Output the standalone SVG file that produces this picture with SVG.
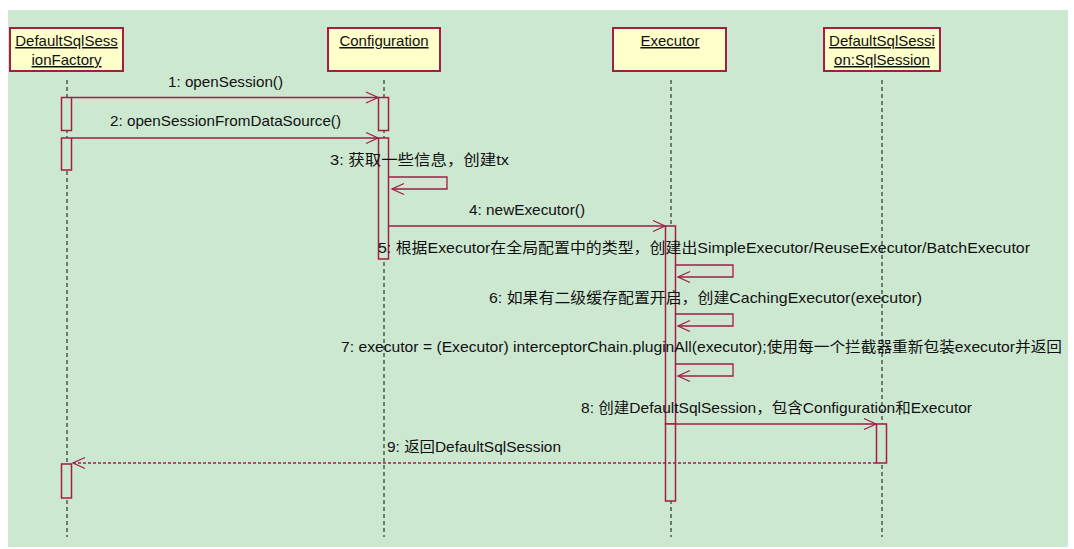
<svg xmlns="http://www.w3.org/2000/svg" width="1074" height="549" viewBox="0 0 1074 549">
<style>
.bg{fill:#cde8d1}
.box{fill:#ffffcc;stroke:#a31d45;stroke-width:2}
.hd{font-family:"Liberation Sans","Noto Sans CJK SC",sans-serif;font-size:15px;fill:#111;text-anchor:middle;text-decoration:underline}
.life{stroke:#111;stroke-width:1;stroke-dasharray:4,3;fill:none}
.act{fill:#cde8d1;stroke:#a31d45;stroke-width:1.5}
.msg{stroke:#a31d45;stroke-width:1.3;fill:none}
.ret{stroke:#a31d45;stroke-width:1.3;fill:none;stroke-dasharray:3,2}
.lbl{font-family:"Liberation Sans","Noto Sans CJK SC",sans-serif;font-size:14.5px;fill:#111}
</style>
<defs>
<marker id="open" markerUnits="userSpaceOnUse" markerWidth="14" markerHeight="14" refX="12" refY="6" orient="auto" overflow="visible">
<path d="M0,0.5 L12,6 L0,11.5" fill="none" stroke="#a31d45" stroke-width="1.3"/>
</marker>
</defs>
<rect class="bg" x="8" y="10" width="1060" height="537"/>

<g id="lifeline-factory">
<line class="life" x1="67" y1="80" x2="67" y2="537"/>
<rect class="box" x="10" y="28" width="113" height="43"/>
<text class="hd" x="66.5" y="46">DefaultSqlSess</text>
<text class="hd" x="66.5" y="65">ionFactory</text>
<rect class="act" x="61.5" y="97.5" width="10" height="33"/>
<rect class="act" x="61.5" y="138" width="10" height="32"/>
<rect class="act" x="61.5" y="464" width="10" height="34"/>
</g>

<g id="lifeline-configuration">
<line class="life" x1="384" y1="80" x2="384" y2="537"/>
<rect class="box" x="328" y="28" width="112" height="43"/>
<text class="hd" x="384" y="46">Configuration</text>
<rect class="act" x="378.5" y="97.5" width="10" height="33"/>
<rect class="act" x="378.5" y="138" width="10" height="121"/>
</g>

<g id="lifeline-executor">
<line class="life" x1="671" y1="80" x2="671" y2="537"/>
<rect class="box" x="613" y="28" width="113" height="43"/>
<text class="hd" x="670" y="46">Executor</text>
<rect class="act" x="665.5" y="226" width="10" height="198"/>
<rect class="act" x="665.5" y="424" width="10" height="77"/>
</g>

<g id="lifeline-sqlsession">
<line class="life" x1="882" y1="80" x2="882" y2="537"/>
<rect class="box" x="824" y="28" width="116" height="43"/>
<text class="hd" x="882" y="46">DefaultSqlSessi</text>
<text class="hd" x="882" y="65">on:SqlSession</text>
<rect class="act" x="876.5" y="424" width="10" height="39"/>
</g>

<g id="connectors">
<line class="msg" x1="72" y1="97.5" x2="378" y2="97.5" marker-end="url(#open)"/>
<line class="msg" x1="72" y1="138" x2="378" y2="138" marker-end="url(#open)"/>
<path class="msg" d="M389,177 H447 V189 H392" marker-end="url(#open)"/>
<line class="msg" x1="389" y1="226" x2="665" y2="226" marker-end="url(#open)"/>
<path class="msg" d="M676,265 H733 V277 H678" marker-end="url(#open)"/>
<path class="msg" d="M676,314 H733 V326 H678" marker-end="url(#open)"/>
<path class="msg" d="M676,364 H733 V376 H678" marker-end="url(#open)"/>
<line class="msg" x1="676" y1="424" x2="876" y2="424" marker-end="url(#open)"/>
<line class="ret" x1="876" y1="463" x2="73" y2="463" marker-end="url(#open)"/>
</g>

<g id="labels">
<text class="lbl" x="168" y="87" textLength="115" lengthAdjust="spacingAndGlyphs">1: openSession()</text>
<text class="lbl" x="110" y="126" textLength="231" lengthAdjust="spacingAndGlyphs">2: openSessionFromDataSource()</text>
<text class="lbl" x="330" y="165" textLength="179" lengthAdjust="spacingAndGlyphs">3: 获取一些信息，创建tx</text>
<text class="lbl" x="469" y="215" textLength="116" lengthAdjust="spacingAndGlyphs">4: newExecutor()</text>
<text class="lbl" x="378" y="253" textLength="652" lengthAdjust="spacingAndGlyphs">5: 根据Executor在全局配置中的类型，创建出SimpleExecutor/ReuseExecutor/BatchExecutor</text>
<text class="lbl" x="489" y="303" textLength="433" lengthAdjust="spacingAndGlyphs">6: 如果有二级缓存配置开启，创建CachingExecutor(executor)</text>
<text class="lbl" x="341" y="352" textLength="721" lengthAdjust="spacingAndGlyphs">7: executor = (Executor) interceptorChain.pluginAll(executor);使用每一个拦截器重新包装executor并返回</text>
<text class="lbl" x="581" y="413" textLength="391" lengthAdjust="spacingAndGlyphs">8: 创建DefaultSqlSession，包含Configuration和Executor</text>
<text class="lbl" x="387" y="452" textLength="174" lengthAdjust="spacingAndGlyphs">9: 返回DefaultSqlSession</text>
</g>
</svg>
